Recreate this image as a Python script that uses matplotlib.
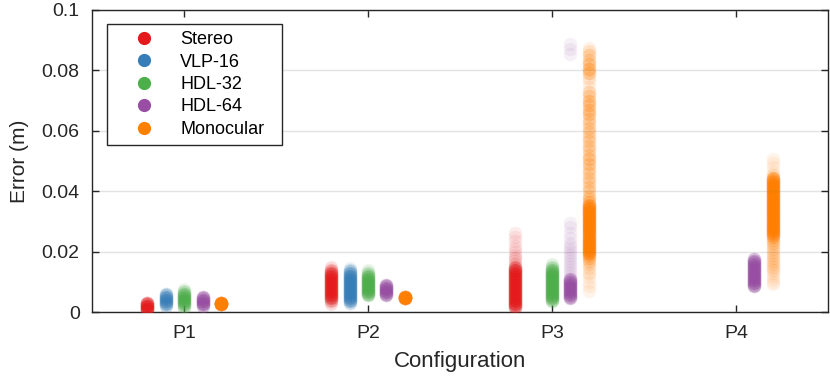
import matplotlib
matplotlib.use("Agg")
import matplotlib.pyplot as plt
from matplotlib.lines import Line2D
import numpy as np

plt.rcParams['font.family'] = ['Liberation Sans', 'DejaVu Sans']

configs = ["P1", "P2", "P3", "P4"]
series = ["Stereo", "VLP-16", "HDL-32", "HDL-64", "Monocular"]
colors = ["#e41a1c", "#377eb8", "#4daf4a", "#984ea3", "#ff7f00"]

# Error values in millimetres, with the number of
# overlapping samples estimated at each value (from the colour density).
p1_stereo = [0.5, 1.0, 1.5, 2.0, 2.5, 3.0]
p1_stereo_n = [6, 7, 7, 7, 7, 6]
p1_vlp16 = [2.0, 2.5, 3.0, 3.5, 4.0, 4.5, 5.0, 5.5, 6.0]
p1_vlp16_n = [3, 4, 5, 5, 5, 5, 5, 4, 3]
p1_hdl32 = [1.0, 1.5, 2.0, 2.5, 3.0, 3.5, 4.0, 4.5, 5.0, 5.5, 6.0, 6.5, 7.0, 7.5]
p1_hdl32_n = [1, 2, 3, 4, 5, 5, 5, 5, 5, 5, 4, 3, 2, 1]
p1_hdl64 = [2.0, 2.5, 3.0, 3.5, 4.0, 4.5, 5.0]
p1_hdl64_n = [5, 6, 6, 6, 6, 6, 5]
p1_mono = [2.5, 3.0]
p1_mono_n = [20, 20]

p2_stereo = [2.5, 3.0, 3.5, 4.0, 4.5, 5.0, 5.5, 6.0, 6.5, 7.0, 7.5, 8.0, 8.5,
             9.0, 9.5, 10.0, 10.5, 11.0, 11.5, 12.0, 12.5, 13.0, 13.5, 14.0,
             14.5, 15.0]
p2_stereo_n = [1, 1, 2, 3, 4, 5, 5, 5, 5, 5, 5, 5, 5, 5, 5, 5, 5, 5, 5, 5, 5,
               4, 3, 2, 1, 1]
p2_vlp16 = [3.0, 3.5, 4.0, 4.5, 5.0, 5.5, 6.0, 6.5, 7.0, 7.5, 8.0, 8.5, 9.0,
            9.5, 10.0, 10.5, 11.0, 11.5, 12.0, 12.5, 13.0, 13.5, 14.0, 14.5]
p2_vlp16_n = [3, 4, 5, 5, 5, 5, 5, 5, 5, 5, 5, 5, 5, 5, 5, 5, 5, 5, 5, 4, 4,
              3, 2, 1]
p2_hdl32 = [5.5, 6.0, 6.5, 7.0, 7.5, 8.0, 8.5, 9.0, 9.5, 10.0, 10.5, 11.0,
            11.5, 12.0, 12.5, 13.0, 13.5, 14.0]
p2_hdl32_n = [4, 5, 5, 5, 5, 5, 5, 5, 5, 5, 5, 5, 5, 4, 3, 2, 1, 1]
p2_hdl64 = [5.5, 6.0, 6.5, 7.0, 7.5, 8.0, 8.5, 9.0]
p2_hdl64_n = [5, 6, 6, 6, 6, 6, 6, 5]
p2_mono = [4.5, 5.0]
p2_mono_n = [20, 20]

p3_stereo = [1.0, 1.5, 2.0, 2.5, 3.0, 3.5, 4.0, 4.5, 5.0, 5.5, 6.0, 6.5, 7.0,
             7.5, 8.0, 8.5, 9.0, 9.5, 10.0, 10.5, 11.0, 11.5, 12.0, 12.5, 13.0,
             13.5, 14.0, 14.5, 15.0, 16.0, 17.0, 18.0, 19.0, 20.0, 21.0, 22.0,
             23.5, 25.0, 26.0]
p3_stereo_n = [2, 3, 5, 5, 5, 5, 5, 5, 5, 5, 5, 5, 5, 5, 5, 5, 5, 5, 5, 5, 5,
               5, 5, 5, 5, 5, 5, 4, 3, 2, 1, 2, 1, 1, 1, 1, 1, 1, 1]
p3_vlp16 = []
p3_vlp16_n = []
p3_hdl32 = [3.5, 4.0, 4.5, 5.0, 5.5, 6.0, 6.5, 7.0, 7.5, 8.0, 8.5, 9.0, 9.5,
            10.0, 10.5, 11.0, 11.5, 12.0, 12.5, 13.0, 13.5, 14.0, 14.5, 15.0,
            15.5, 16.0]
p3_hdl32_n = [3, 4, 5, 5, 5, 5, 5, 5, 5, 5, 5, 5, 5, 5, 5, 5, 5, 5, 5, 5, 5,
              4, 3, 2, 1, 1]
p3_hdl64 = [4.5, 5.0, 5.5, 6.0, 6.5, 7.0, 7.5, 8.0, 8.5, 9.0, 9.5, 10.0, 10.5,
            11.0, 12.0, 13.0, 14.0, 15.0, 16.0, 17.0, 18.0, 19.0, 20.0, 21.0,
            22.0, 23.0, 24.5, 26.0, 28.0, 29.5, 85.5, 87.0, 88.7]
p3_hdl64_n = [4, 5, 5, 5, 5, 5, 5, 5, 5, 5, 5, 5, 5, 4, 1, 1, 1, 1, 1, 1, 1,
              1, 1, 1, 1, 1, 1, 1, 1, 1, 1, 1, 1]
p3_mono = [7.0, 8.5, 10.0, 11.5, 13.0, 14.5, 16.0, 17.0, 18.0, 19.0, 19.5,
           20.0, 20.5, 21.0, 21.5, 22.0, 22.5, 23.0, 23.5, 24.0, 24.5, 25.0,
           25.5, 26.0, 26.5, 27.0, 27.5, 28.0, 28.5, 29.0, 29.5, 30.0, 30.5,
           31.0, 31.5, 32.0, 32.5, 33.0, 33.5, 34.0, 34.5, 35.0, 35.5, 36.5,
           37.5, 38.5, 40.0, 41.5, 43.0, 44.5, 46.0, 47.5, 49.0, 50.5, 52.0,
           53.5, 55.0, 56.5, 58.0, 59.5, 61.0, 62.5, 64.0, 65.5, 67.0, 68.5,
           70.0, 71.5, 73.0, 74.5, 76.0, 77.5, 79.0, 80.5, 82.0, 83.5, 85.0,
           86.5, 87.4]
p3_mono_n = [1, 1, 1, 1, 2, 2, 2, 3, 4, 5, 5, 5, 5, 5, 5, 5, 5, 5, 5, 5, 5, 5,
             5, 5, 5, 5, 5, 5, 5, 5, 5, 5, 5, 5, 5, 5, 5, 5, 5, 5, 5, 5, 5, 4,
             3, 3, 3, 3, 3, 3, 3, 3, 4, 4, 3, 3, 3, 3, 3, 3, 3, 3, 3, 4, 4, 4,
             4, 3, 3, 1, 1, 2, 4, 5, 4, 3, 3, 2, 1]

p4_stereo = []
p4_stereo_n = []
p4_vlp16 = []
p4_vlp16_n = []
p4_hdl32 = []
p4_hdl32_n = []
p4_hdl64 = [8.5, 9.0, 9.5, 10.0, 10.5, 11.0, 11.5, 12.0, 12.5, 13.0, 13.5,
            14.0, 14.5, 15.0, 15.5, 16.0, 16.5, 17.0, 17.5]
p4_hdl64_n = [5, 5, 5, 5, 5, 5, 5, 5, 5, 5, 5, 5, 5, 5, 5, 5, 5, 5, 5]
p4_mono = [9.3, 10.0, 11.0, 12.0, 13.0, 14.0, 15.0, 16.0, 17.0, 18.0, 19.0,
           20.0, 21.0, 22.0, 23.0, 24.0, 25.0, 25.5, 26.0, 26.5, 27.0, 27.5,
           28.0, 28.5, 29.0, 29.5, 30.0, 30.5, 31.0, 31.5, 32.0, 32.5, 33.0,
           33.5, 34.0, 34.5, 35.0, 35.5, 36.0, 36.5, 37.0, 37.5, 38.0, 38.5,
           39.0, 39.5, 40.0, 40.5, 41.0, 41.5, 42.0, 42.5, 43.0, 43.5, 44.0,
           44.5, 45.5, 46.5, 48.0, 49.5, 50.7]
p4_mono_n = [1, 1, 1, 1, 1, 2, 2, 2, 2, 2, 2, 2, 2, 2, 3, 3, 5, 5, 5, 5, 5, 5,
             5, 5, 5, 5, 5, 5, 5, 5, 5, 5, 5, 5, 5, 5, 5, 5, 5, 5, 5, 5, 5, 5,
             5, 5, 5, 5, 5, 5, 5, 5, 5, 5, 5, 5, 2, 1, 1, 1, 1]

data = [
    [(p1_stereo, p1_stereo_n), (p1_vlp16, p1_vlp16_n), (p1_hdl32, p1_hdl32_n),
     (p1_hdl64, p1_hdl64_n), (p1_mono, p1_mono_n)],
    [(p2_stereo, p2_stereo_n), (p2_vlp16, p2_vlp16_n), (p2_hdl32, p2_hdl32_n),
     (p2_hdl64, p2_hdl64_n), (p2_mono, p2_mono_n)],
    [(p3_stereo, p3_stereo_n), (p3_vlp16, p3_vlp16_n), (p3_hdl32, p3_hdl32_n),
     (p3_hdl64, p3_hdl64_n), (p3_mono, p3_mono_n)],
    [(p4_stereo, p4_stereo_n), (p4_vlp16, p4_vlp16_n), (p4_hdl32, p4_hdl32_n),
     (p4_hdl64, p4_hdl64_n), (p4_mono, p4_mono_n)],
]

fig = plt.figure(figsize=(8.3, 3.77), dpi=100)
ax = fig.add_axes([0.111, 0.1724, 0.8866, 0.8011])

offsets = [-0.2, -0.1, 0.0, 0.1, 0.2]
for ci, cfg in enumerate(data):
    for si, (vals, counts) in enumerate(cfg):
        if not vals:
            continue
        y = np.repeat(np.asarray(vals) / 1000.0, counts)
        x = np.full(len(y), ci + 1 + offsets[si])
        ax.scatter(x, y, s=95, color=colors[si], alpha=0.08, linewidths=0,
                   zorder=3)

ax.set_xlim(0.5, 4.5)
ax.set_ylim(0, 0.1)
ax.set_xticks([1, 2, 3, 4])
ax.set_xticklabels(configs)
ax.set_yticks([0, 0.02, 0.04, 0.06, 0.08, 0.1])
ax.set_yticklabels(["0", "0.02", "0.04", "0.06", "0.08", "0.1"])
ax.yaxis.grid(True, color="#e3e3e3", linewidth=1.0, zorder=0)
ax.set_axisbelow(True)

spine_c = "#262626"
for sp in ax.spines.values():
    sp.set_color(spine_c)
    sp.set_linewidth(1.0)
ax.tick_params(direction="in", length=5, width=1.0, color=spine_c,
               top=True, right=True, labelsize=14, labelcolor="#262626")
ax.tick_params(axis="y", pad=9)
ax.tick_params(axis="x", pad=9)

ax.set_xlabel("Configuration", fontsize=16, color="#262626", labelpad=7)
ax.set_ylabel("Error (m)", fontsize=15, color="#262626", labelpad=9)

handles = [Line2D([], [], linestyle="none", marker="o", markersize=9.5,
                  markerfacecolor=c, markeredgewidth=0) for c in colors]
leg = ax.legend(handles, series, loc="upper left",
                bbox_to_anchor=(0.0204, 0.0, 0.2378, 0.9536), mode="expand",
                fontsize=13, frameon=True, fancybox=False, framealpha=1,
                edgecolor=spine_c, handlelength=3.3, handletextpad=0.35,
                labelspacing=0.3, borderpad=0.4, borderaxespad=0.0)
leg.get_frame().set_linewidth(1.0)
leg.set_zorder(5)

fig.savefig("out.png", dpi=100)
